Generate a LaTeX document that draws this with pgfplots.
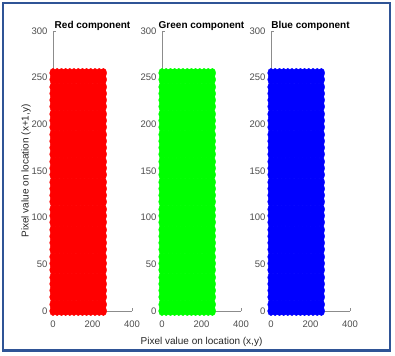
\documentclass[border=0pt]{standalone}
\usepackage{fontspec}
\setmainfont{Liberation Sans}
\usepackage{pgfplots}
\usepackage{pgfplotstable}
\pgfplotsset{compat=1.18}

\definecolor{frameblue}{RGB}{47,84,150}
\definecolor{axgray}{RGB}{140,140,140}
\definecolor{ticktext}{RGB}{77,77,77}

% pixel pairs: value at (x,y) vs value at (x+1,y); the cloud fills 0..255 in both
\pgfplotstableread[row sep=\\]{
x y\\
0 0\\0 7\\0 15\\0 22\\0 29\\0 36\\0 44\\0 51\\0 58\\0 66\\0 73\\0 80\\0 87\\0 95\\0 102\\0 109\\0 117\\0 124\\0 131\\0 138\\0 146\\0 153\\0 160\\0 168\\0 175\\0 182\\0 189\\0 197\\0 204\\0 211\\0 219\\0 226\\0 233\\0 240\\0 248\\0 255\\
21 0\\21 7\\21 15\\21 22\\21 29\\21 36\\21 44\\21 51\\21 58\\21 66\\21 73\\21 80\\21 87\\21 95\\21 102\\21 109\\21 117\\21 124\\21 131\\21 138\\21 146\\21 153\\21 160\\21 168\\21 175\\21 182\\21 189\\21 197\\21 204\\21 211\\21 219\\21 226\\21 233\\21 240\\21 248\\21 255\\
43 0\\43 7\\43 15\\43 22\\43 29\\43 36\\43 44\\43 51\\43 58\\43 66\\43 73\\43 80\\43 87\\43 95\\43 102\\43 109\\43 117\\43 124\\43 131\\43 138\\43 146\\43 153\\43 160\\43 168\\43 175\\43 182\\43 189\\43 197\\43 204\\43 211\\43 219\\43 226\\43 233\\43 240\\43 248\\43 255\\
64 0\\64 7\\64 15\\64 22\\64 29\\64 36\\64 44\\64 51\\64 58\\64 66\\64 73\\64 80\\64 87\\64 95\\64 102\\64 109\\64 117\\64 124\\64 131\\64 138\\64 146\\64 153\\64 160\\64 168\\64 175\\64 182\\64 189\\64 197\\64 204\\64 211\\64 219\\64 226\\64 233\\64 240\\64 248\\64 255\\
85 0\\85 7\\85 15\\85 22\\85 29\\85 36\\85 44\\85 51\\85 58\\85 66\\85 73\\85 80\\85 87\\85 95\\85 102\\85 109\\85 117\\85 124\\85 131\\85 138\\85 146\\85 153\\85 160\\85 168\\85 175\\85 182\\85 189\\85 197\\85 204\\85 211\\85 219\\85 226\\85 233\\85 240\\85 248\\85 255\\
106 0\\106 7\\106 15\\106 22\\106 29\\106 36\\106 44\\106 51\\106 58\\106 66\\106 73\\106 80\\106 87\\106 95\\106 102\\106 109\\106 117\\106 124\\106 131\\106 138\\106 146\\106 153\\106 160\\106 168\\106 175\\106 182\\106 189\\106 197\\106 204\\106 211\\106 219\\106 226\\106 233\\106 240\\106 248\\106 255\\
128 0\\128 7\\128 15\\128 22\\128 29\\128 36\\128 44\\128 51\\128 58\\128 66\\128 73\\128 80\\128 87\\128 95\\128 102\\128 109\\128 117\\128 124\\128 131\\128 138\\128 146\\128 153\\128 160\\128 168\\128 175\\128 182\\128 189\\128 197\\128 204\\128 211\\128 219\\128 226\\128 233\\128 240\\128 248\\128 255\\
149 0\\149 7\\149 15\\149 22\\149 29\\149 36\\149 44\\149 51\\149 58\\149 66\\149 73\\149 80\\149 87\\149 95\\149 102\\149 109\\149 117\\149 124\\149 131\\149 138\\149 146\\149 153\\149 160\\149 168\\149 175\\149 182\\149 189\\149 197\\149 204\\149 211\\149 219\\149 226\\149 233\\149 240\\149 248\\149 255\\
170 0\\170 7\\170 15\\170 22\\170 29\\170 36\\170 44\\170 51\\170 58\\170 66\\170 73\\170 80\\170 87\\170 95\\170 102\\170 109\\170 117\\170 124\\170 131\\170 138\\170 146\\170 153\\170 160\\170 168\\170 175\\170 182\\170 189\\170 197\\170 204\\170 211\\170 219\\170 226\\170 233\\170 240\\170 248\\170 255\\
191 0\\191 7\\191 15\\191 22\\191 29\\191 36\\191 44\\191 51\\191 58\\191 66\\191 73\\191 80\\191 87\\191 95\\191 102\\191 109\\191 117\\191 124\\191 131\\191 138\\191 146\\191 153\\191 160\\191 168\\191 175\\191 182\\191 189\\191 197\\191 204\\191 211\\191 219\\191 226\\191 233\\191 240\\191 248\\191 255\\
213 0\\213 7\\213 15\\213 22\\213 29\\213 36\\213 44\\213 51\\213 58\\213 66\\213 73\\213 80\\213 87\\213 95\\213 102\\213 109\\213 117\\213 124\\213 131\\213 138\\213 146\\213 153\\213 160\\213 168\\213 175\\213 182\\213 189\\213 197\\213 204\\213 211\\213 219\\213 226\\213 233\\213 240\\213 248\\213 255\\
234 0\\234 7\\234 15\\234 22\\234 29\\234 36\\234 44\\234 51\\234 58\\234 66\\234 73\\234 80\\234 87\\234 95\\234 102\\234 109\\234 117\\234 124\\234 131\\234 138\\234 146\\234 153\\234 160\\234 168\\234 175\\234 182\\234 189\\234 197\\234 204\\234 211\\234 219\\234 226\\234 233\\234 240\\234 248\\234 255\\
255 0\\255 7\\255 15\\255 22\\255 29\\255 36\\255 44\\255 51\\255 58\\255 66\\255 73\\255 80\\255 87\\255 95\\255 102\\255 109\\255 117\\255 124\\255 131\\255 138\\255 146\\255 153\\255 160\\255 168\\255 175\\255 182\\255 189\\255 197\\255 204\\255 211\\255 219\\255 226\\255 233\\255 240\\255 248\\255 255\\
}\pixelpairs

\pgfplotsset{
  comp/.style={
    scale only axis, width=79pt, height=280pt,
    anchor=south west,
    xmin=0, xmax=400, ymin=0, ymax=300,
    axis lines=left,
    axis line style={-, draw=axgray, line width=0.6pt},
    tick style={draw=axgray, line width=0.6pt},
    tick align=inside, major tick length=2.5pt,
    xtick={0,200,400}, ytick={0,50,...,300},
    tick label style={font=\fontsize{9.5}{10}\selectfont, text=ticktext},
    yticklabel style={xshift=-2pt},
    xticklabel style={yshift=-6pt},
    /pgf/number format/assume math mode=true,
    title style={font=\bfseries\fontsize{10}{12}\selectfont, yshift=-9pt},
    label style={font=\fontsize{10}{12}\selectfont, text=black!85},
    ylabel shift=-6pt,
    clip=false,
  },
  cloud/.style={only marks, mark=*, mark size=3.3pt,
    mark options={yscale=1.4, draw=#1, fill=#1}, color=#1},
}

\begin{document}
\begin{tikzpicture}
\useasboundingbox (0pt,0pt) rectangle (395pt,355pt);

\begin{axis}[comp, at={(53pt,44pt)}, title={Red component},
    ylabel={Pixel value on location (x+1,y)}]
  \addplot[cloud=red] table {\pixelpairs};
\end{axis}

\begin{axis}[comp, at={(162pt,44pt)}, title={Green component},
    xlabel={Pixel value on location (x,y)}, xlabel style={yshift=-3pt}]
  \addplot[cloud=green] table {\pixelpairs};
\end{axis}

\begin{axis}[comp, at={(271pt,44pt)}, title={Blue component}]
  \addplot[cloud=blue] table {\pixelpairs};
\end{axis}

\draw[frameblue, line width=2.5pt] (3pt,4.5pt) rectangle (390pt,352pt);
\end{tikzpicture}
\end{document}
